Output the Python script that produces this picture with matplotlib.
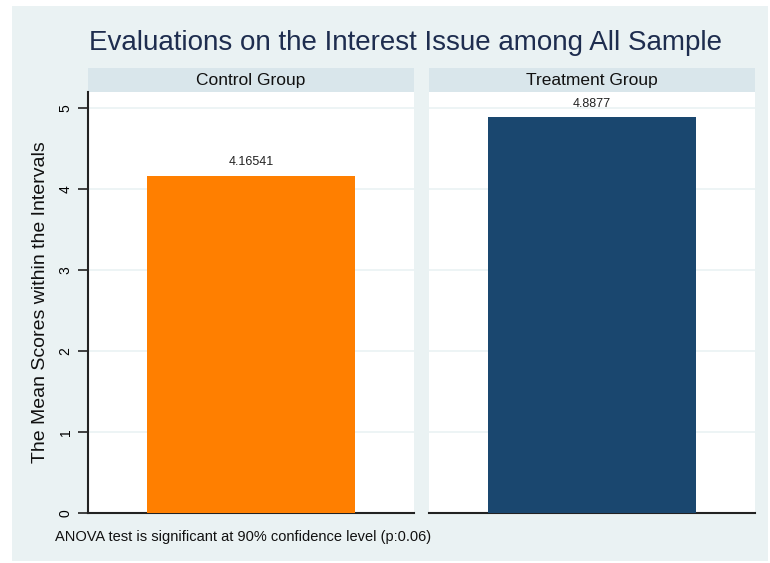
import matplotlib.pyplot as plt
from matplotlib.patches import Rectangle

plt.rcParams['font.family'] = ['Liberation Sans', 'DejaVu Sans']

groups = ['Control Group', 'Treatment Group']
means = [4.16541, 4.8877]
labels = ['4.16541', '4.8877']
colors = ['#ff7f00', '#1a476f']
yticks = [0, 1, 2, 3, 4, 5]

bg = '#eaf2f3'
strip = '#d9e6eb'

W, H = 770, 563
fig = plt.figure(figsize=(W / 100, H / 100), dpi=100)
fig.patch.set_facecolor('white')
fig.patches.append(Rectangle((12 / W, 2 / H), 756 / W, 555 / H,
                             transform=fig.transFigure, facecolor=bg,
                             edgecolor='none', zorder=-10))

def box(x0, y0, x1, y1):
    return [x0 / W, 1 - y1 / H, (x1 - x0) / W, (y1 - y0) / H]

panels = [(88, 414), (429, 755)]
top, bottom = 92, 513
ymax = (bottom - top) / 81.0

for i, (x0, x1) in enumerate(panels):
    # strip header
    sax = fig.add_axes(box(x0, 68, x1, top))
    sax.set_facecolor(strip)
    sax.set_xticks([])
    sax.set_yticks([])
    for s in sax.spines.values():
        s.set_visible(False)
    sax.text(0.5, 0.48, groups[i], ha='center', va='center', fontsize=12.5,
             color='#111111', transform=sax.transAxes)

    ax = fig.add_axes(box(x0, top, x1, bottom))
    ax.set_facecolor('white')
    ax.bar([0], [means[i]], width=0.64, color=colors[i], zorder=3)
    ax.text(0, means[i] + 0.09, labels[i], ha='center', va='bottom',
            fontsize=9, color='#222222', zorder=4)
    ax.set_xlim(-0.5, 0.5)
    ax.set_ylim(0, ymax)
    ax.set_xticks([])
    ax.set_yticks(yticks)
    for y in yticks[1:]:
        ax.axhline(y, color=bg, lw=1.2, zorder=1)
    for k in ['top', 'right']:
        ax.spines[k].set_visible(False)
    ax.spines['bottom'].set_color('#222222')
    ax.spines['bottom'].set_linewidth(1.5)
    if i == 0:
        ax.spines['left'].set_color('#222222')
        ax.spines['left'].set_linewidth(1.5)
        ax.tick_params(axis='y', length=7, width=1.2, color='#222222',
                       labelsize=10, pad=4)
        ax.set_yticklabels([str(t) for t in yticks], rotation=90, va='center')
        ax.set_ylabel('The Mean Scores within the Intervals', fontsize=14,
                      color='#111111', labelpad=7)
    else:
        ax.spines['left'].set_visible(False)
        ax.tick_params(axis='y', length=0, labelleft=False)

fig.text(406 / W, 1 - 43 / H, 'Evaluations on the Interest Issue among All Sample',
         ha='center', va='center', fontsize=20, color='#1e2d4f')
fig.text(55 / W, 1 - 537 / H,
         'ANOVA test is significant at 90% confidence level (p:0.06)',
         ha='left', va='center', fontsize=10.5, color='#111111')

fig.savefig('out.png', dpi=100, facecolor=fig.get_facecolor())
